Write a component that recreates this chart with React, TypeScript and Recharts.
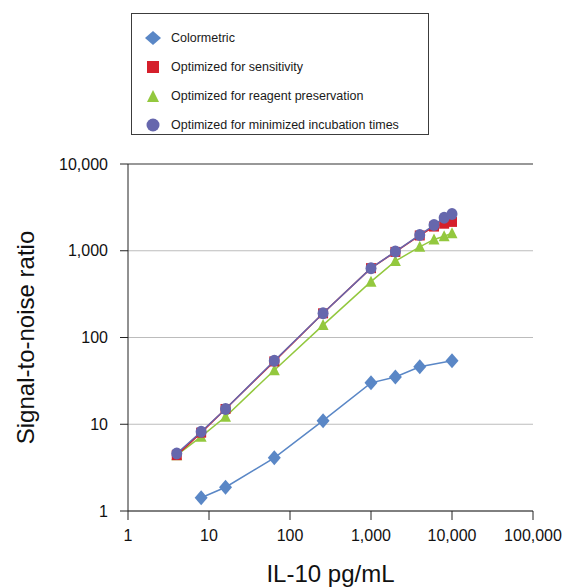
import React from "react";
import {
  ScatterChart,
  Scatter,
  XAxis,
  YAxis,
  CartesianGrid,
  Legend,
  ReferenceLine,
  Label,
} from "recharts";

/* ── Data ────────────────────────────────────────────── */
const xTicks = [1, 10, 100, 1000, 10000, 100000];
const yTicks = [1, 10, 100, 1000, 10000];

const colormetricX = [8, 16, 64, 256, 1000, 2000, 4000, 10000];
const colormetricY = [1.42, 1.88, 4.1, 11, 30, 35, 46, 54];

const optimizedX = [4, 8, 16, 64, 256, 1000, 2000, 4000, 6000, 8000, 10000];
const sensitivityY = [4.4, 8.0, 15, 53, 190, 630, 970, 1500, 1900, 2050, 2150];
const reagentY = [4.4, 7.2, 12.2, 42, 139, 440, 760, 1110, 1350, 1470, 1590];
const incubationY = [4.6, 8.2, 15, 54, 190, 630, 980, 1520, 1980, 2400, 2660];

const toPoints = (xs: number[], ys: number[]) =>
  xs.map((x, i) => ({ x, y: ys[i] }));

const BLUE = "#5A87C6";
const RED = "#D51F2B";
const GREEN = "#93C83E";
const PURPLE = "#6667AD";

const FONT = '"Liberation Sans", Arial, Helvetica, sans-serif';

/* ── Marker shapes ───────────────────────────────────── */
type ShapeProps = { cx?: number; cy?: number };

function DiamondShape({ cx = 0, cy = 0 }: ShapeProps) {
  return (
    <path
      d={`M${cx},${cy - 7.5}L${cx + 6.5},${cy}L${cx},${cy + 7.5}L${cx - 6.5},${cy}Z`}
      fill={BLUE}
    />
  );
}

function SquareShape({ cx = 0, cy = 0 }: ShapeProps) {
  return <rect x={cx - 5} y={cy - 5} width={10} height={10} fill={RED} />;
}

function TriangleShape({ cx = 0, cy = 0 }: ShapeProps) {
  return (
    <path
      d={`M${cx},${cy - 6}L${cx + 5.5},${cy + 5}L${cx - 5.5},${cy + 5}Z`}
      fill={GREEN}
    />
  );
}

function CircleShape({ cx = 0, cy = 0 }: ShapeProps) {
  return <ellipse cx={cx} cy={cy} rx={5.5} ry={6} fill={PURPLE} />;
}

const legendItems = [
  { name: "Colormetric", icon: "diamond", color: BLUE },
  { name: "Optimized for sensitivity", icon: "square", color: RED },
  { name: "Optimized for reagent preservation", icon: "triangle", color: GREEN },
  { name: "Optimized for minimized incubation times", icon: "circle", color: PURPLE },
];

function LegendIcon({ icon, color }: { icon: string; color: string }) {
  return (
    <svg width={20} height={16} style={{ display: "block" }}>
      {icon === "diamond" && <path d="M10,1L18,8L10,15L2,8Z" fill={color} />}
      {icon === "square" && <rect x={4} y={2} width={12} height={12} fill={color} />}
      {icon === "triangle" && <path d="M10,2L16,14L4,14Z" fill={color} />}
      {icon === "circle" && <circle cx={10} cy={8} r={6.5} fill={color} />}
    </svg>
  );
}

function BoxLegend() {
  return (
    <div
      style={{
        boxSizing: "border-box",
        width: 298,
        height: 122,
        border: "1.5px solid #3c3c3c",
        paddingTop: 9,
        fontFamily: FONT,
        fontSize: 12.5,
        color: "#1a1a1a",
      }}
    >
      {legendItems.map((it) => (
        <div
          key={it.name}
          style={{ display: "flex", alignItems: "center", height: 29 }}
        >
          <div style={{ width: 11 }} />
          <LegendIcon icon={it.icon} color={it.color} />
          <span style={{ marginLeft: 8 }}>{it.name}</span>
        </div>
      ))}
    </div>
  );
}

const fmt = (v: number) => v.toLocaleString("en-US");

export default function App() {
  return (
    <div
      style={{
        position: "absolute",
        left: 0,
        top: 0,
        width: 569,
        height: 588,
        background: "#fff",
      }}
    >
      <ScatterChart
        width={569}
        height={588}
        margin={{ top: 164, right: 36, bottom: 23, left: 18 }}
      >
        <CartesianGrid
          vertical={false}
          stroke="#bcbcbc"
          strokeWidth={1.2}
        />
        <XAxis
          type="number"
          dataKey="x"
          scale="log"
          domain={[1, 100000]}
          ticks={xTicks}
          tickFormatter={fmt}
          allowDataOverflow
          height={54}
          stroke="#222"
          tickSize={9}
          tickMargin={10}
          tick={{ fill: "#111", fontSize: 16, fontFamily: FONT }}
        >
          <Label
            value="IL-10 pg/mL"
            position="bottom"
            offset={0}
            style={{ fontSize: 24, fontFamily: FONT, fill: "#111" }}
          />
        </XAxis>
        <YAxis
          type="number"
          dataKey="y"
          scale="log"
          domain={[1, 10000]}
          ticks={yTicks}
          tickFormatter={fmt}
          allowDataOverflow
          width={110}
          stroke="#222"
          tickSize={8}
          tickMargin={12}
          tick={{ fill: "#111", fontSize: 16, fontFamily: FONT }}
        >
          <Label
            value="Signal-to-noise ratio"
            angle={-90}
            position="insideLeft"
            offset={7}
            style={{
              fontSize: 24,
              fontFamily: FONT,
              fill: "#111",
              textAnchor: "middle",
            }}
          />
        </YAxis>
        <ReferenceLine y={10000} stroke="#555" strokeWidth={1.2} />
        <Legend
          verticalAlign="middle"
          align="center"
          layout="horizontal"
          content={<BoxLegend />}
          wrapperStyle={{ top: 13, left: 131, width: 298, height: 122 }}
        />
        <Scatter
          name="Colormetric"
          data={toPoints(colormetricX, colormetricY)}
          line={{ stroke: BLUE, strokeWidth: 1.5 }}
          lineJointType="linear"
          shape={<DiamondShape />}
          isAnimationActive={false}
        />
        <Scatter
          name="Optimized for reagent preservation"
          data={toPoints(optimizedX, reagentY)}
          line={{ stroke: GREEN, strokeWidth: 1.5 }}
          lineJointType="linear"
          shape={<TriangleShape />}
          isAnimationActive={false}
        />
        <Scatter
          name="Optimized for sensitivity"
          data={toPoints(optimizedX, sensitivityY)}
          line={{ stroke: RED, strokeWidth: 1.5 }}
          lineJointType="linear"
          shape={<SquareShape />}
          isAnimationActive={false}
        />
        <Scatter
          name="Optimized for minimized incubation times"
          data={toPoints(optimizedX, incubationY)}
          line={{ stroke: PURPLE, strokeWidth: 1.5 }}
          lineJointType="linear"
          shape={<CircleShape />}
          isAnimationActive={false}
        />
      </ScatterChart>
    </div>
  );
}
